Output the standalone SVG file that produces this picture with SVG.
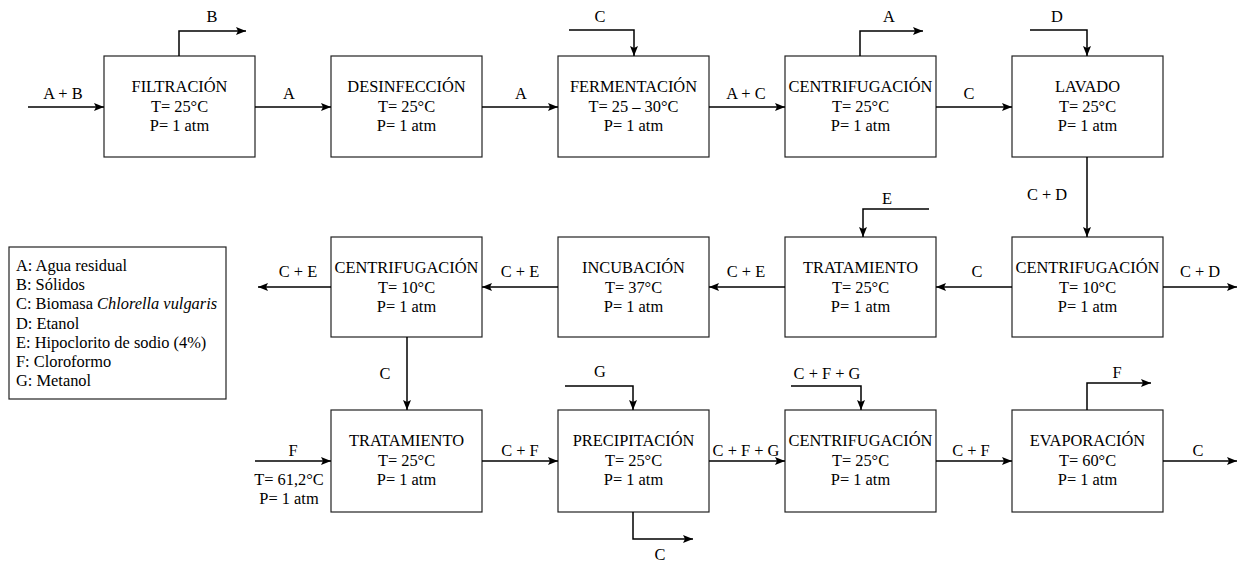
<svg xmlns="http://www.w3.org/2000/svg" width="1243" height="563" viewBox="0 0 1243 563">
<style>
text{font-family:"Liberation Serif","Times New Roman",serif;font-size:16.4px;fill:#000}
.c{text-anchor:middle}
.box{fill:#fff;stroke:#222;stroke-width:1.2}
.ln{fill:none;stroke:#000;stroke-width:1.5;marker-end:url(#ah)}
</style>
<defs>
<marker id="ah" markerUnits="userSpaceOnUse" markerWidth="11" markerHeight="9" refX="10" refY="4" orient="auto" viewBox="0 0 11 9">
<path d="M0,0 L10,4 L0,8 L2,4 Z" fill="#000"/>
</marker>
</defs>
<rect width="1243" height="563" fill="#fff"/>

<g id="n1"><rect class="box" x="104" y="56" width="151" height="101"/><text class="c" x="179.5" y="92">FILTRACIÓN</text><text class="c" x="179.5" y="112">T= 25°C</text><text class="c" x="179.5" y="131">P= 1 atm</text></g>
<g id="n2"><rect class="box" x="331" y="56" width="151" height="101"/><text class="c" x="406.5" y="92">DESINFECCIÓN</text><text class="c" x="406.5" y="112">T= 25°C</text><text class="c" x="406.5" y="131">P= 1 atm</text></g>
<g id="n3"><rect class="box" x="558" y="56" width="151" height="101"/><text class="c" x="633.5" y="92">FERMENTACIÓN</text><text class="c" x="633.5" y="112">T= 25 – 30°C</text><text class="c" x="633.5" y="131">P= 1 atm</text></g>
<g id="n4"><rect class="box" x="785" y="56" width="151" height="101"/><text class="c" x="860.5" y="92">CENTRIFUGACIÓN</text><text class="c" x="860.5" y="112">T= 25°C</text><text class="c" x="860.5" y="131">P= 1 atm</text></g>
<g id="n5"><rect class="box" x="1012" y="56" width="151" height="101"/><text class="c" x="1087.5" y="92">LAVADO</text><text class="c" x="1087.5" y="112">T= 25°C</text><text class="c" x="1087.5" y="131">P= 1 atm</text></g>

<g id="n6"><rect class="box" x="1012" y="237" width="151" height="100"/><text class="c" x="1087.5" y="273">CENTRIFUGACIÓN</text><text class="c" x="1087.5" y="293">T= 10°C</text><text class="c" x="1087.5" y="312">P= 1 atm</text></g>
<g id="n7"><rect class="box" x="785" y="237" width="151" height="100"/><text class="c" x="860.5" y="273">TRATAMIENTO</text><text class="c" x="860.5" y="293">T= 25°C</text><text class="c" x="860.5" y="312">P= 1 atm</text></g>
<g id="n8"><rect class="box" x="558" y="237" width="151" height="100"/><text class="c" x="633.5" y="273">INCUBACIÓN</text><text class="c" x="633.5" y="293">T= 37°C</text><text class="c" x="633.5" y="312">P= 1 atm</text></g>
<g id="n9"><rect class="box" x="331" y="237" width="151" height="100"/><text class="c" x="406.5" y="273">CENTRIFUGACIÓN</text><text class="c" x="406.5" y="293">T= 10°C</text><text class="c" x="406.5" y="312">P= 1 atm</text></g>

<g id="n10"><rect class="box" x="331" y="410" width="151" height="102"/><text class="c" x="406.5" y="446">TRATAMIENTO</text><text class="c" x="406.5" y="466">T= 25°C</text><text class="c" x="406.5" y="485">P= 1 atm</text></g>
<g id="n11"><rect class="box" x="558" y="410" width="151" height="102"/><text class="c" x="633.5" y="446">PRECIPITACIÓN</text><text class="c" x="633.5" y="466">T= 25°C</text><text class="c" x="633.5" y="485">P= 1 atm</text></g>
<g id="n12"><rect class="box" x="785" y="410" width="151" height="102"/><text class="c" x="860.5" y="446">CENTRIFUGACIÓN</text><text class="c" x="860.5" y="466">T= 25°C</text><text class="c" x="860.5" y="485">P= 1 atm</text></g>
<g id="n13"><rect class="box" x="1012" y="410" width="151" height="102"/><text class="c" x="1087.5" y="446">EVAPORACIÓN</text><text class="c" x="1087.5" y="466">T= 60°C</text><text class="c" x="1087.5" y="485">P= 1 atm</text></g>

<g id="legend"><rect class="box" x="9" y="247" width="217" height="152"/>
<text x="16" y="271">A: Agua residual</text>
<text x="16" y="290">B: Sólidos</text>
<text x="16" y="309">C: Biomasa <tspan font-style="italic">Chlorella vulgaris</tspan></text>
<text x="16" y="329">D: Etanol</text>
<text x="16" y="348">E: Hipoclorito de sodio (4%)</text>
<text x="16" y="367">F: Cloroformo</text>
<text x="16" y="386">G: Metanol</text>
</g>

<g id="connectors">
<path class="ln" d="M28,107 H104"/><text class="c" x="63" y="99">A + B</text>
<path class="ln" d="M179,56 V31 H246"/><text class="c" x="212" y="22">B</text>
<path class="ln" d="M255,107 H331"/><text class="c" x="289" y="99">A</text>
<path class="ln" d="M482,107 H558"/><text class="c" x="521" y="99">A</text>
<path class="ln" d="M569,30 H634 V56"/><text class="c" x="600" y="22">C</text>
<path class="ln" d="M709,107 H785"/><text class="c" x="746" y="99">A + C</text>
<path class="ln" d="M860,56 V31 H923"/><text class="c" x="889" y="22">A</text>
<path class="ln" d="M936,107 H1012"/><text class="c" x="969" y="99">C</text>
<path class="ln" d="M1030,30 H1087 V56"/><text class="c" x="1057" y="22">D</text>
<path class="ln" d="M1087,157 V237"/><text class="c" x="1047" y="200">C + D</text>

<path class="ln" d="M1163,287 H1237"/><text class="c" x="1200" y="277">C + D</text>
<path class="ln" d="M1012,287 H936"/><text class="c" x="977" y="277">C</text>
<path class="ln" d="M929,209 H863 V237"/><text class="c" x="887" y="204">E</text>
<path class="ln" d="M785,287 H709"/><text class="c" x="746" y="277">C + E</text>
<path class="ln" d="M558,287 H482"/><text class="c" x="520" y="277">C + E</text>
<path class="ln" d="M331,287 H258"/><text class="c" x="298" y="277">C + E</text>
<path class="ln" d="M407,337 V410"/><text class="c" x="385" y="379">C</text>

<path class="ln" d="M255,461 H331"/><text class="c" x="293" y="456">F</text>
<text class="c" x="289" y="485">T= 61,2°C</text><text class="c" x="289" y="504">P= 1 atm</text>
<path class="ln" d="M482,461 H558"/><text class="c" x="520" y="456">C + F</text>
<path class="ln" d="M565,386 H633 V410"/><text class="c" x="600" y="377">G</text>
<path class="ln" d="M633,512 V539 H693"/><text class="c" x="660" y="560">C</text>
<path class="ln" d="M709,461 H785"/><text class="c" x="746" y="456">C + F + G</text>
<path class="ln" d="M791,386 H861 V410"/><text class="c" x="827" y="379">C + F + G</text>
<path class="ln" d="M936,461 H1012"/><text class="c" x="971" y="456">C + F</text>
<path class="ln" d="M1087,410 V383 H1151"/><text class="c" x="1117" y="378">F</text>
<path class="ln" d="M1163,461 H1237"/><text class="c" x="1198" y="456">C</text>
</g>
</svg>
